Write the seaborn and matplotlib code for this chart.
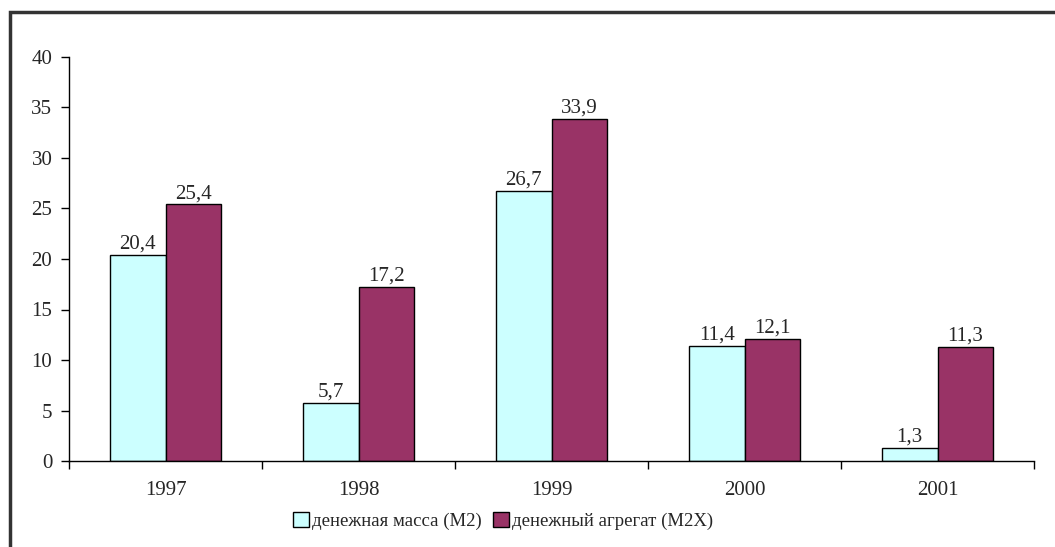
import matplotlib
matplotlib.use("Agg")
import matplotlib.pyplot as plt
import seaborn as sns
import pandas as pd
from matplotlib.patches import Rectangle

years = ["1997", "1998", "1999", "2000", "2001"]
m2 = [20.4, 5.7, 26.7, 11.4, 1.3]
m2x = [25.4, 17.2, 33.9, 12.1, 11.3]
series_names = ["денежная масса (М2)", "денежный агрегат (М2Х)"]
colors = ["#CCFFFF", "#993366"]

df = pd.DataFrame({
    "year": years * 2,
    "value": m2 + m2x,
    "series": [series_names[0]] * len(years) + [series_names[1]] * len(years),
})

sns.set_style("white")
plt.rcParams["font.family"] = ["Liberation Serif", "DejaVu Serif"]
FS = 15

fig = plt.figure(figsize=(10.55, 5.47), dpi=100)
ax = fig.add_axes([69 / 1055, 1 - 461 / 547, (1034 - 69) / 1055, (461 - 57) / 547])

sns.barplot(data=df, x="year", y="value", hue="series", palette=colors,
            width=0.575, edgecolor="black", linewidth=1.0, ax=ax, saturation=1)

for cont in ax.containers:
    labels = [f"{v:.1f}".replace(".", ",") for v in cont.datavalues]
    ax.bar_label(cont, labels=labels, padding=1, fontsize=FS)

ax.set_ylim(0, 40)
ax.set_yticks(range(0, 41, 5))
ax.set_xlim(-0.5, 4.5)
ax.set_xlabel("")
ax.set_ylabel("")
for s in ["top", "right"]:
    ax.spines[s].set_visible(False)
for s in ["left", "bottom"]:
    ax.spines[s].set_color("black")
    ax.spines[s].set_linewidth(1.0)
ax.set_xticks([])
ax.set_xticks([i - 0.5 for i in range(6)], minor=True)
ax.tick_params(axis="x", which="minor", direction="out", length=6, color="black",
               width=1, bottom=True)
ax.tick_params(axis="y", direction="out", length=6, color="black", width=1,
               labelsize=FS, left=True, pad=6)
for i, y in enumerate(years):
    ax.text(i, -2.0, y, ha="center", va="top", fontsize=FS,
            transform=ax.transData)

handles, labels = ax.get_legend_handles_labels()
ax.legend_.remove()
fig.legend(handles, labels, loc="center", bbox_to_anchor=(503 / 1055, 1 - 521 / 547),
           ncol=2, frameon=False, fontsize=13.5, handlelength=0.85, handleheight=0.85,
           handletextpad=0.15, columnspacing=0.6)

fig.patches.append(Rectangle((10 / 1055, -0.05), 1.1, 1 - 11.5 / 547 + 0.05,
                             transform=fig.transFigure, fill=False,
                             edgecolor="#333333", linewidth=2.5))

fig.savefig("out.png", dpi=100)
